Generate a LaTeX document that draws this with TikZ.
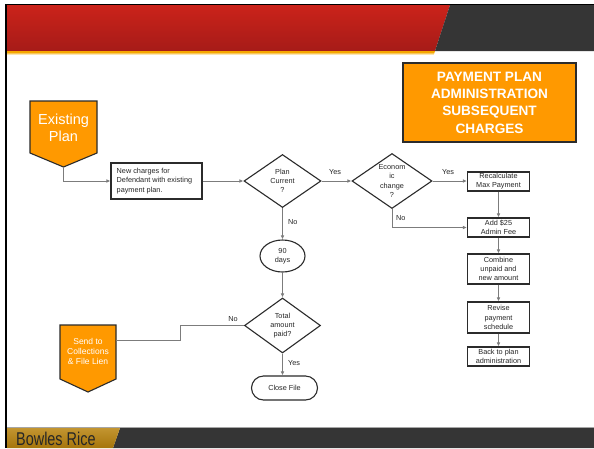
\documentclass[tikz,border=0pt]{standalone}
\usepackage{fontspec}
\setmainfont{Liberation Sans}
\newfontfamily\footfont[FakeStretch=0.78]{Liberation Sans}
\usetikzlibrary{shapes.geometric,arrows.meta}

\definecolor{bandred}{HTML}{CB231A}
\definecolor{bandredlow}{HTML}{A61B18}
\definecolor{banddark}{HTML}{353535}
\definecolor{accent}{HTML}{FF9900}
\definecolor{strip}{HTML}{F5A800}
\definecolor{gold}{HTML}{B8820C}
\definecolor{edge}{HTML}{2B2B2B}
\definecolor{wire}{HTML}{7C7C7C}

\tikzset{
  small/.style={font=\fontsize{7.3}{9.2}\selectfont, text=black!85, align=center, inner sep=0pt},
  box/.style={rectangle, draw=edge, line width=1.1pt, fill=white, inner sep=0pt,
              minimum width=62pt, minimum height=19pt, small},
  decision/.style={diamond, draw=edge, line width=1.1pt, fill=white, inner sep=0pt},
  flow/.style={draw=wire, line width=0.8pt, -{Latex[length=4pt,width=3.6pt]}},
  plain/.style={draw=wire, line width=0.8pt},
  tag/.style={small, inner sep=0pt},
  badge/.style={fill=accent, draw=edge, line width=1.1pt, line join=miter}
}

\begin{document}
\begin{tikzpicture}[x=1pt, y=-1pt]
\useasboundingbox (0,0) rectangle (594,448);
\fill[white] (0,0) rectangle (594,448);

% header band
\shade[top color=bandred, bottom color=bandredlow]
  (7,5) -- (450,5) -- (435,51) -- (7,51) -- cycle;
\fill[banddark] (450,5) -- (594,5) -- (594,51) -- (435,51) -- cycle;
\fill[strip] (7,51) -- (435,51) -- (434.2,53.5) -- (7,53.5) -- cycle;
\fill[strip!30] (7,53.5) rectangle (434,54.5);

% footer band
\draw[gray!70, line width=0.8pt] (7,427.5) -- (594,427.5);
\fill[banddark] (120,428) -- (594,428) -- (594,448) -- (113,448) -- cycle;
\shade[top color=gold!85!white, bottom color=gold!90!black]
  (7,428) -- (120,428) -- (113,448) -- (7,448) -- cycle;
\node[anchor=base west, inner sep=0pt, text=black!85,
      font=\footfont\fontsize{18.5}{18.5}\selectfont] (brand) at (16,445) {Bowles Rice};

% frame
\draw[black, line width=1.5pt] (6.2,448) -- (6.2,4.5) -- (594,4.5);

% title
\node[rectangle, fill=accent, draw=edge, line width=1.2pt, minimum width=173pt,
      minimum height=79pt, inner sep=0pt, text=white, align=center,
      font=\bfseries\fontsize{13.6}{17.4}\selectfont] (title) at (489.5,102.5)
  {PAYMENT PLAN\\ADMINISTRATION\\SUBSEQUENT\\CHARGES};

% off-page connectors
\path[badge] (30,101) -- (97,101) -- (97,153) -- (63.5,167) -- (30,153) -- cycle;
\node[text=white, align=center, inner sep=0pt,
      font=\fontsize{14.5}{17}\selectfont] (exist) at (63.5,128) {Existing\\Plan};
\coordinate (existtip) at (63.5,167);

\path[badge] (60,325) -- (116,325) -- (116,379) -- (88,392) -- (60,379) -- cycle;
\node[text=white, align=center, inner sep=0pt,
      font=\fontsize{8.5}{10}\selectfont] (send) at (88,351) {Send to\\Collections\\\& File Lien};
\coordinate (sendport) at (116,340);

% process steps
\node[box, minimum width=91pt, minimum height=36pt] (newch) at (156.5,181) {};
\node[small, align=left, anchor=west] at (116.5,181)
  {New charges for\\Defendant with existing\\payment plan.};

\node[decision, minimum width=77pt, minimum height=53pt] (plan) at (282.5,181) {};
\node[small] at (plan) {Plan\\Current\\?};

\node[decision, minimum width=80pt, minimum height=55pt] (econ) at (392,181) {};
\node[small] at (econ) {Econom\\ic\\change\\?};

\node[box] (recalc) at (498.5,181.5) {Recalculate\\Max Payment};
\node[box] (addfee) at (498.5,227.5) {Add \$25\\Admin Fee};
\node[box, minimum height=30pt] (combine) at (498.5,269) {Combine\\unpaid and\\new amount};
\node[box, minimum height=31pt] (revise) at (498.5,317.5) {Revise\\payment\\schedule};
\node[box] (back) at (498.5,356.5) {Back to plan\\administration};

\node[ellipse, draw=edge, line width=1.1pt, fill=white, inner sep=0pt,
      minimum width=45pt, minimum height=32pt, small] (ninety) at (282.5,256) {90\\days};

\node[decision, minimum width=76pt, minimum height=55pt] (total) at (282.5,325.5) {};
\node[small] at (total) {Total\\amount\\paid?};

\node[rectangle, rounded corners=12pt, draw=edge, line width=1.1pt, fill=white,
      minimum width=66pt, minimum height=24pt, inner sep=0pt, small] (close) at (284.5,388) {Close File};

% connectors
\draw[flow] (existtip) |- (newch.west);
\draw[flow] (newch.east) -- (plan.west);
\draw[flow] (plan.east) -- (econ.west);
\draw[flow] (econ.east) -- (econ.east -| recalc.west);
\draw[flow] (econ.south) |- (addfee.west);
\draw[flow] (recalc.south) -- (addfee.north);
\draw[flow] (addfee.south) -- (combine.north);
\draw[flow] (combine.south) -- (revise.north);
\draw[flow] (revise.south) -- (back.north);
\draw[flow] (plan.south) -- (ninety.north);
\draw[flow] (ninety.south) -- (total.north);
\draw[flow] (total.south) -- (total.south |- close.north);
\draw[plain] (total.west) -- (180,325.5) -- (180,340) -- (sendport);

% branch labels
\node[tag] (yes1) at (335,172) {Yes};
\node[tag] (yes2) at (448,172) {Yes};
\node[tag, anchor=west] (no1) at (396,218) {No};
\node[tag, anchor=west] (no2) at (288,222) {No};
\node[tag, anchor=west] (yes3) at (288,363) {Yes};
\node[tag] (no3) at (233,319.5) {No};
\end{tikzpicture}
\end{document}
